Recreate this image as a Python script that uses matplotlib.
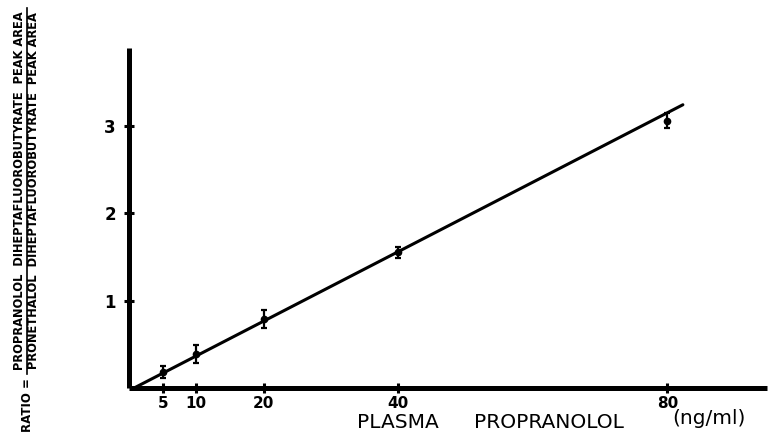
import matplotlib
matplotlib.use("Agg")
import matplotlib.pyplot as plt
import numpy as np
from matplotlib.lines import Line2D

# Data
conc = [5, 10, 20, 40, 80]                  # ng/ml
ratio = [0.18, 0.39, 0.79, 1.55, 3.05]
err_lo = [0.07, 0.10, 0.10, 0.06, 0.08]
err_hi = [0.07, 0.10, 0.10, 0.06, 0.09]
x_ticks = [5, 10, 20, 40, 80]
y_ticks = [1, 2, 3]
fit_slope = 0.0397
fit_intercept = -0.03
fit_range = [0.8, 82.3]

W, H = 774, 438
fig = plt.figure(figsize=(W / 100, H / 100), dpi=100)
fig.patch.set_facecolor("white")
ax = fig.add_axes([129 / W, (H - 388) / H, (767 - 129) / W, (388 - 48) / H])

fx = np.array(fit_range)
ax.plot(fx, fit_slope * fx + fit_intercept, color="black", lw=2.2, solid_capstyle="round", zorder=3)
ax.errorbar(conc, ratio, yerr=[err_lo, err_hi], fmt="o", ms=4.5, color="black",
            ecolor="black", elinewidth=1.6, capsize=2.5, capthick=1.6, zorder=4)

ax.set_xlim(0, 94.8)
ax.set_ylim(0, 3.886)
for s in ["top", "right"]:
    ax.spines[s].set_visible(False)
for s in ["left", "bottom"]:
    ax.spines[s].set_linewidth(3.6)
    ax.spines[s].set_capstyle("butt")

ax.set_xticks(x_ticks)
ax.set_xticklabels([str(v) for v in x_ticks])
ax.set_yticks(y_ticks)
ax.set_yticklabels([str(v) for v in y_ticks])
ax.tick_params(axis="x", direction="inout", length=7, width=2.2, pad=2.5, labelsize=11)
ax.tick_params(axis="y", direction="inout", length=7, width=2.2, pad=6, labelsize=12)
for lab in ax.get_xticklabels() + ax.get_yticklabels():
    lab.set_fontweight("bold")

fig.text(357 / W, 1 - 422 / H, "PLASMA", fontsize=14.5, ha="left", va="center")
fig.text(474 / W, 1 - 422 / H, "PROPRANOLOL", fontsize=14.5, ha="left", va="center")
fig.text(672 / W, 1 - 418 / H, "(ng/ml)", fontsize=14.5, ha="left", va="center")

# y label as a fraction
fig.text(20 / W, 1 - 191 / H, "PROPRANOLOL  DIHEPTAFLUOROBUTYRATE  PEAK AREA",
         rotation=90, fontsize=8.3, fontweight="bold", ha="center", va="center",
         family="DejaVu Sans Condensed")
fig.text(34 / W, 1 - 191 / H, "PRONETHALOL  DIHEPTAFLUOROBUTYRATE  PEAK AREA",
         rotation=90, fontsize=8.3, fontweight="bold", ha="center", va="center",
         family="DejaVu Sans Condensed")
fig.add_artist(Line2D([27 / W, 27 / W], [1 - 374 / H, 1 - 8 / H], transform=fig.transFigure,
                      color="black", lw=1.2))
fig.text(28 / W, 1 - 405 / H, "RATIO =", rotation=90, fontsize=8.5, fontweight="bold",
         ha="center", va="center", family="DejaVu Sans Condensed")

fig.savefig("out.png", dpi=100, facecolor="white")
